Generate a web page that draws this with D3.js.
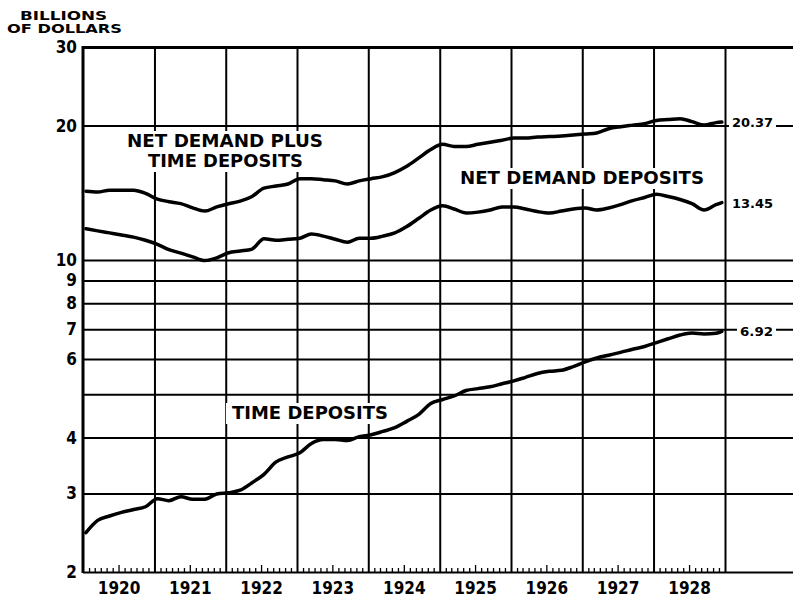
<!DOCTYPE html>
<meta charset="utf-8">
<title>Deposits of member banks 1920-1928</title>
<style>

body { margin: 0; background: #ffffff; }

text {
  font-family: "DejaVu Sans Condensed", "DejaVu Sans", sans-serif;
  font-weight: bold;
  fill: #000000;
}

</style>

<svg width="793" height="599"></svg>
<script src="https://d3js.org/d3.v7.min.js"></script>
<script>

// readings taken every two months off the chart, billions of dollars
var months = [
  "1920-01", "1920-03", "1920-05", "1920-07", "1920-09", "1920-11",
  "1921-01", "1921-03", "1921-05", "1921-07", "1921-09", "1921-11",
  "1922-01", "1922-03", "1922-05", "1922-07", "1922-09", "1922-11",
  "1923-01", "1923-03", "1923-05", "1923-07", "1923-09", "1923-11",
  "1924-01", "1924-03", "1924-05", "1924-07", "1924-09", "1924-11",
  "1925-01", "1925-03", "1925-05", "1925-07", "1925-09", "1925-11",
  "1926-01", "1926-03", "1926-05", "1926-07", "1926-09", "1926-11",
  "1927-01", "1927-03", "1927-05", "1927-07", "1927-09", "1927-11",
  "1928-01", "1928-03", "1928-05", "1928-07", "1928-09", "1928-11", "1928-12"
];

var netDemandPlusTime = [
  14.26, 14.20, 14.33, 14.33, 14.33, 14.10,
  13.69, 13.51, 13.37, 13.08, 12.87, 13.15,
  13.37, 13.55, 13.88, 14.49, 14.64, 14.80,
  15.21, 15.21, 15.13, 15.04, 14.80, 15.04,
  15.21, 15.37, 15.70, 16.22, 16.93, 17.68,
  18.16, 17.96, 17.96, 18.16, 18.35, 18.55,
  18.75, 18.75, 18.85, 18.90, 18.95, 19.05,
  19.16, 19.26, 19.68, 19.89, 20.05, 20.20,
  20.53, 20.63, 20.73, 20.42, 20.05, 20.31, 20.37
];

var netDemand = [
  11.75, 11.62, 11.50, 11.38, 11.25, 11.07,
  10.84, 10.55, 10.36, 10.16, 9.97, 10.11,
  10.38, 10.47, 10.58, 11.16, 11.07, 11.13,
  11.19, 11.44, 11.31, 11.13, 10.96, 11.19,
  11.19, 11.31, 11.50, 11.88, 12.40, 12.94,
  13.22, 13.01, 12.74, 12.80, 12.94, 13.15,
  13.15, 13.01, 12.84, 12.74, 12.87, 13.01,
  13.08, 12.94, 13.08, 13.30, 13.58, 13.80,
  14.03, 13.87, 13.66, 13.37, 12.94, 13.30, 13.45
];

var timeDeposits = [
  2.45, 2.61, 2.67, 2.72, 2.76, 2.80,
  2.92, 2.89, 2.95, 2.91, 2.91, 2.99,
  3.01, 3.05, 3.17, 3.31, 3.53, 3.62,
  3.70, 3.88, 3.96, 3.96, 3.94, 4.02,
  4.06, 4.13, 4.21, 4.35, 4.51, 4.77,
  4.87, 4.96, 5.10, 5.15, 5.20, 5.28,
  5.36, 5.46, 5.57, 5.63, 5.66, 5.77,
  5.91, 6.03, 6.12, 6.21, 6.31, 6.40,
  6.53, 6.66, 6.79, 6.86, 6.83, 6.85, 6.92
];

var yearLabels = ["1920", "1921", "1922", "1923", "1924", "1925", "1926", "1927", "1928"];
var gridValues = [2, 3, 4, 5, 6, 7, 8, 9, 10, 20, 30];
var tickLabels = [2, 3, 4, 6, 7, 8, 9, 10, 20, 30];   // 5 line has no figure
var endLabels = ["20.37", "13.45", "6.92"];

var svg = d3.select("svg"),
    width = +svg.attr("width"),
    height = +svg.attr("height");

var plotLeft = 83, plotRight = 725, gridRight = 793,
    plotTop = 47, plotBottom = 572;

svg.append("rect")
    .attr("width", width)
    .attr("height", height)
    .attr("fill", "#ffffff");

var parseMonth = d3.timeParse("%Y-%m");
function midMonth(m) { return d3.timeDay.offset(parseMonth(m), 15); }

var x = d3.scaleTime()
    .domain([new Date(1920, 0, 1), new Date(1929, 0, 1)])
    .range([plotLeft, plotRight]);

var y = d3.scaleLog()
    .domain([2, 30])
    .range([plotBottom, plotTop]);

//horizontal ruling + figures on the left
var yAxis = svg.append("g")
    .attr("transform", "translate(" + plotLeft + ",0)")
    .call(d3.axisLeft(y)
        .tickValues(gridValues)
        .tickSize(-(gridRight - plotLeft))
        .tickPadding(6)
        .tickFormat(function(d) { return tickLabels.indexOf(d) < 0 ? "" : d; }));
yAxis.select(".domain").remove();
yAxis.selectAll("line")
    .attr("stroke", "#000")
    .attr("stroke-width", function(d) { return d === 30 ? 3 : 2; });
yAxis.selectAll("text").style("font-size", "17px");

//year rulings
var yearStarts = yearLabels.map(function(yr) { return new Date(+yr, 0, 1); })
    .concat([new Date(1929, 0, 1)]);

var yearAxis = svg.append("g")
    .attr("transform", "translate(0," + plotBottom + ")")
    .call(d3.axisTop(x)
        .tickValues(yearStarts.slice(1))
        .tickSize(plotBottom - plotTop)
        .tickFormat(""));
yearAxis.select(".domain").remove();
yearAxis.selectAll("line").attr("stroke", "#000").attr("stroke-width", 2);

//monthly ticks on the base line
var monthTicks = x.ticks(d3.timeMonth.every(1)).filter(function(d) { return d.getMonth() !== 0; });
var monthAxis = svg.append("g")
    .attr("transform", "translate(0," + plotBottom + ")")
    .call(d3.axisTop(x).tickValues(monthTicks).tickSize(4).tickFormat(""));
monthAxis.select(".domain").remove();
monthAxis.selectAll("line")
    .attr("stroke", "#000")
    .attr("stroke-width", 1.3)
    .attr("y2", function(d) { return d.getMonth() === 6 ? -7 : -4; });

//year figures under the chart
var yearAxisLabels = svg.append("g")
    .attr("transform", "translate(0," + plotBottom + ")")
    .call(d3.axisBottom(x)
        .tickValues(yearLabels.map(function(yr) { return new Date(+yr, 6, 1); }))
        .tickSize(0)
        .tickPadding(10)
        .tickFormat(function(d, i) { return yearLabels[i]; }));
yearAxisLabels.select(".domain").remove();
yearAxisLabels.selectAll("text").style("font-size", "17px");

//left axis
svg.append("line")
    .attr("x1", plotLeft).attr("x2", plotLeft)
    .attr("y1", plotTop - 1).attr("y2", plotBottom + 1)
    .attr("stroke", "#000")
    .attr("stroke-width", 3);

//unit caption
svg.append("text").attr("x", 20).attr("y", 20)
    .attr("textLength", 87).attr("lengthAdjust", "spacingAndGlyphs")
    .style("font-size", "12px").text("BILLIONS");
svg.append("text").attr("x", 7).attr("y", 33)
    .attr("textLength", 115).attr("lengthAdjust", "spacingAndGlyphs")
    .style("font-size", "12px").text("OF DOLLARS");

//series names, on white patches so the rulings stop behind them
function seriesLabel(rows) {
  var g = svg.append("g");
  var bg = g.append("rect").attr("fill", "#fff");
  rows.forEach(function(r) {
    g.append("text")
        .attr("x", r.x).attr("y", r.y)
        .attr("textLength", r.w).attr("lengthAdjust", "spacingAndGlyphs")
        .style("font-size", "18px")
        .text(r.t);
  });
  var b = g.node().getBBox();
  bg.attr("x", b.x - 6).attr("y", b.y + 1)
    .attr("width", b.width + 12).attr("height", b.height);
}

seriesLabel([{t: "NET DEMAND PLUS", x: 127, y: 147, w: 196},
             {t: "TIME DEPOSITS", x: 148, y: 167, w: 155}]);
seriesLabel([{t: "NET DEMAND DEPOSITS", x: 460, y: 184, w: 244}]);
seriesLabel([{t: "TIME DEPOSITS", x: 232, y: 419, w: 156}]);

//the three curves
var line = d3.line()
    .x(function(d) { return x(d.date); })
    .y(function(d) { return y(d.value); })
    .curve(d3.curveMonotoneX);

var series = [netDemandPlusTime, netDemand, timeDeposits];

series.forEach(function(values, i) {
  var pts = months.map(function(m, j) { return {date: midMonth(m), value: values[j]}; });

  svg.append("path")
      .datum(pts)
      .attr("d", line)
      .attr("fill", "none")
      .attr("stroke", "#000")
      .attr("stroke-width", 3.5)
      .attr("stroke-linejoin", "round")
      .attr("stroke-linecap", "round");

  //closing figure at the right
  var last = values[values.length - 1];
  var g = svg.append("g");
  var bg = g.append("rect").attr("fill", "#fff");
  var t = g.append("text")
      .attr("x", i === 2 ? 740 : 732)
      .attr("y", y(last) + 5)
      .attr("textLength", i === 2 ? 33 : 41)
      .attr("lengthAdjust", "spacingAndGlyphs")
      .style("font-size", "13px")
      .text(endLabels[i]);
  var b = t.node().getBBox();
  bg.attr("x", b.x - 3).attr("y", b.y).attr("width", b.width + 6).attr("height", b.height);
});

</script>
